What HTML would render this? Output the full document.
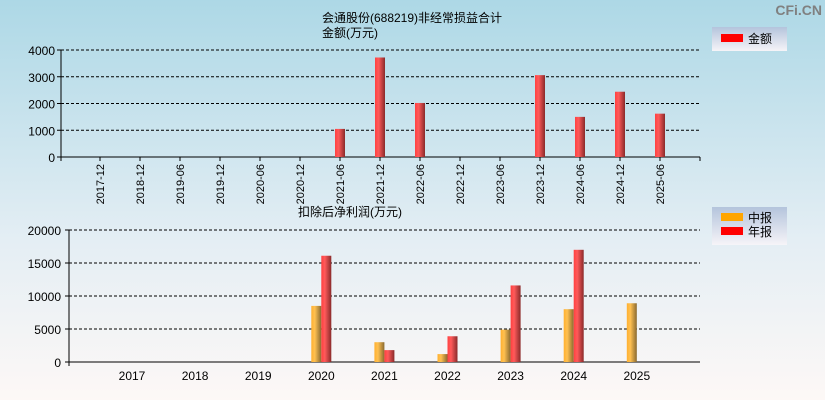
<!DOCTYPE html>
<html><head><meta charset="utf-8"><style>
body{margin:0;width:825px;height:400px;overflow:hidden;font-family:"Liberation Sans","Noto Sans CJK SC",sans-serif}
svg{display:block}
</style></head><body>
<svg id="c" width="825" height="400" xmlns="http://www.w3.org/2000/svg">
<defs>
<linearGradient id="bg" x1="0" y1="0" x2="0" y2="1"><stop offset="0" stop-color="#add8e6"/><stop offset="0.6" stop-color="#e4eef4"/><stop offset="1" stop-color="#fdf8f6"/></linearGradient>
<linearGradient id="red" x1="0" x2="1"><stop offset="0" stop-color="#ff4040"/><stop offset="0.35" stop-color="#ff5a5a"/><stop offset="1" stop-color="#8a2a2a"/></linearGradient>
<linearGradient id="org" x1="0" x2="1"><stop offset="0" stop-color="#ffb030"/><stop offset="0.35" stop-color="#ffc050"/><stop offset="1" stop-color="#8a6a30"/></linearGradient>
<linearGradient id="lg" x1="0" y1="0" x2="0" y2="1"><stop offset="0" stop-color="#b4c4dc"/><stop offset="1" stop-color="#f6f4f8"/></linearGradient>
</defs>
<rect width="825" height="400" fill="url(#bg)"/>
<text x="822" y="15" text-anchor="end" font-size="14" font-weight="bold" fill="#808080">CFi.CN</text>
<text x="412" y="22" text-anchor="middle" font-size="12">会通股份(688219)非经常损益合计</text>
<text x="322" y="37" font-size="12">金额(万元)</text>
<text x="298" y="216" font-size="12">扣除后净利润(万元)</text>
<g>
<rect x="712" y="27" width="75" height="24" fill="url(#lg)"/>
<rect x="721" y="34" width="22" height="8" fill="#f00"/>
<text x="748" y="43" font-size="12">金额</text></g>
<g>
<rect x="712" y="207" width="75" height="38" fill="url(#lg)"/>
<rect x="721" y="213" width="22" height="8" fill="#ffa500"/>
<text x="748" y="222" font-size="12">中报</text>
<rect x="721" y="227" width="22" height="8" fill="#f00"/>
<text x="748" y="236" font-size="12">年报</text></g>
<g id="top"></g><g id="bot"></g>
</svg>
<script>
const topCats=["2017-12","2018-12","2019-06","2019-12","2020-06","2020-12","2021-06","2021-12","2022-06","2022-12","2023-06","2023-12","2024-06","2024-12","2025-06"];
const topVals=[null,null,null,null,null,null,1050,3720,2020,null,null,3060,1500,2440,1620];
const topTicks=[0,1000,2000,3000,4000];
const botCats=["2017","2018","2019","2020","2021","2022","2023","2024","2025"];
const midVals=[null,null,null,8500,3000,1200,4900,8000,8900];
const annVals=[null,null,null,16100,1800,3900,11600,17000,null];
const botTicks=[0,5000,10000,15000,20000];
const NS="http://www.w3.org/2000/svg";
function mk(p,t,a){const e=document.createElementNS(NS,t);for(const k in a)e.setAttribute(k,a[k]);p.appendChild(e);return e;}
// top
const T=document.getElementById('top');
const ty=v=>157-v/4000*107, tx=i=>100+i*40;
topTicks.forEach(v=>{const y=ty(v);
 if(v>0){const l=mk(T,'line',{x1:61,x2:700,y1:y,y2:y,stroke:'#000','stroke-dasharray':'3,2'});}
 mk(T,'line',{x1:57,x2:61,y1:y,y2:y,stroke:'#000'});
 const t=mk(T,'text',{x:55,y:y+5,'text-anchor':'end','font-size':12});t.textContent=v;
 });
mk(T,'line',{x1:61,x2:61,y1:50,y2:161,stroke:'#000'});
mk(T,'line',{x1:61,x2:700,y1:157,y2:157,stroke:'#000'});
mk(T,'line',{x1:700,x2:700,y1:157,y2:161,stroke:'#000'});
topCats.forEach((c,i)=>{const x=tx(i);
 mk(T,'line',{x1:x,x2:x,y1:157,y2:161,stroke:'#000'});
 const t=mk(T,'text',{x:0,y:0,'text-anchor':'end','font-size':11,transform:`translate(${x+4},164) rotate(-90)`});t.textContent=c;
 
 if(topVals[i]!=null){const y=ty(topVals[i]);const b=mk(T,'rect',{x:x-5,y:y,width:10,height:157-y,fill:'url(#red)'});
 }});
// bottom
const B=document.getElementById('bot');
const by=v=>362-v/20000*132, bx=i=>132+i*63.1;
botTicks.forEach(v=>{const y=by(v);
 if(v>0){const l=mk(B,'line',{x1:69,x2:700,y1:y,y2:y,stroke:'#000','stroke-dasharray':'3,2'});}
 mk(B,'line',{x1:65,x2:69,y1:y,y2:y,stroke:'#000'});
 const t=mk(B,'text',{x:61,y:y+5,'text-anchor':'end','font-size':12});t.textContent=v;
 });
mk(B,'line',{x1:69,x2:69,y1:230,y2:366,stroke:'#000'});
mk(B,'line',{x1:69,x2:700,y1:362,y2:362,stroke:'#000'});
botCats.forEach((c,i)=>{const x=bx(i);
 const t=mk(B,'text',{x:x,y:380,'text-anchor':'middle','font-size':12});t.textContent=c;
 
 if(midVals[i]!=null){const y=by(midVals[i]);const b=mk(B,'rect',{x:x-10,y:y,width:10,height:362-y,fill:'url(#org)'});
 }
 if(annVals[i]!=null){const y=by(annVals[i]);const b=mk(B,'rect',{x:x,y:y,width:10,height:362-y,fill:'url(#red)'});
 }});
</script>
</body></html>
